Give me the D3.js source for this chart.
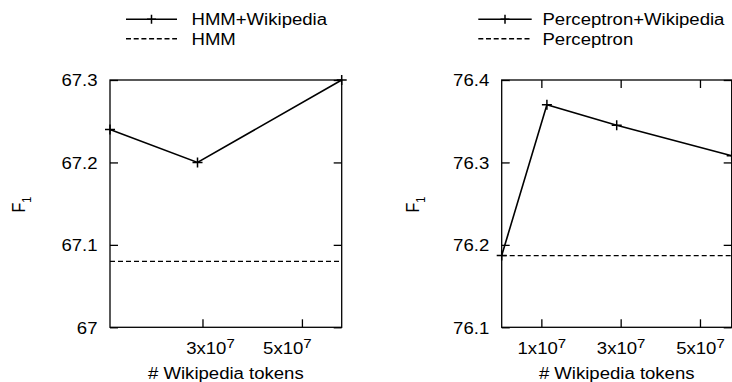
<!DOCTYPE html>
<html>
<head>
<meta charset="utf-8">
<script src="https://cdn.jsdelivr.net/npm/d3@7"></script>
<style>
  body { margin: 0; background: #fff; }
  svg { display: block; }
</style>
</head>
<body>
<div id="chart"></div>
<script>
// values
var hmmTokens = [1.14e7, 2.9e7, 5.8e7];
var hmmWiki = [67.24, 67.2, 67.3];
var hmmBase = 67.08;
var hmmYTicks = [67, 67.1, 67.2, 67.3];
var hmmXTicks = [3e7, 5e7];

var percTokens = [0, 1.14e7, 2.9e7, 5.8e7];
var percWiki = [76.187, 76.37, 76.345, 76.308];
var percBase = 76.187;
var percYTicks = [76.1, 76.2, 76.3, 76.4];
var percXTicks = [1e7, 3e7, 5e7];

var FONT = "'Liberation Sans', Arial, Helvetica, sans-serif";
var SX = 1.16; // text in the source is a bit wider than tall

var svg = d3.select("#chart").append("svg")
  .attr("width", 732)
  .attr("height", 382)
  .attr("font-family", FONT);

var plotTop = 80, plotBottom = 327.3;

function plus(g, cx, cy, r) {
  g.append("path")
    .attr("d", "M" + (cx - r) + "," + cy + "H" + (cx + r) + "M" + cx + "," + (cy - r) + "V" + (cy + r))
    .attr("stroke", "#000").attr("stroke-width", 1.5).attr("fill", "none");
}

function panel(o) {
  var x = d3.scaleLinear().domain(d3.extent(o.tokens)).range([o.x0, o.x1]);
  var y = d3.scaleLinear().domain([o.yTicks[0], o.yTicks[o.yTicks.length - 1]]).range([plotBottom, plotTop]);
  var g = svg.append("g");

  // left axis with labels
  var ay = g.append("g")
    .attr("transform", "translate(" + o.x0 + ",0)")
    .call(d3.axisLeft(y).tickValues(o.yTicks).tickSize(-8).tickSizeOuter(0)
      .tickFormat(function(d) { return String(+d.toFixed(1)); }));
  ay.attr("font-family", FONT).attr("font-size", 16);
  ay.select(".domain").remove();
  ay.selectAll("line").attr("stroke-width", 1.3);
  ay.selectAll("text").attr("x", 0).attr("dy", null)
    .attr("fill", "#000")
    .attr("transform", "translate(-12.5,5.8) scale(" + SX + ",1)");

  // mirrored ticks on the right
  var ar = g.append("g")
    .attr("transform", "translate(" + o.x1 + ",0)")
    .call(d3.axisRight(y).tickValues(o.yTicks).tickSize(-8).tickSizeOuter(0).tickFormat(""));
  ar.select(".domain").remove();
  ar.selectAll("line").attr("stroke-width", 1.3);

  // bottom axis
  var ax = g.append("g")
    .attr("transform", "translate(0," + plotBottom + ")")
    .call(d3.axisBottom(x).tickValues(o.xTicks).tickSize(-8).tickSizeOuter(0).tickFormat(""));
  ax.select(".domain").remove();
  ax.selectAll("line").attr("stroke-width", 1.3);
  ax.selectAll(".tick").each(function(d, i) {
    var t = d3.select(this).append("text")
      .attr("fill", "#000")
      .attr("font-size", 16)
      .attr("font-family", FONT)
      .attr("text-anchor", "middle")
      .attr("transform", "translate(" + o.labelShift[i] + ",26.7) scale(" + SX + ",1)");
    t.append("tspan").text((d / 1e7) + "x10");
    t.append("tspan").attr("font-size", 13).attr("dy", -6.5).text("7");
  });

  if (o.topTicks) {
    var at = g.append("g")
      .attr("transform", "translate(0," + plotTop + ")")
      .call(d3.axisTop(x).tickValues(o.xTicks).tickSize(-8).tickSizeOuter(0).tickFormat(""));
    at.select(".domain").remove();
    at.selectAll("line").attr("stroke-width", 1.3);
  }

  // frame
  g.append("rect")
    .attr("x", o.x0).attr("y", plotTop)
    .attr("width", o.x1 - o.x0).attr("height", plotBottom - plotTop)
    .attr("fill", "none").attr("stroke", "#000").attr("stroke-width", 1.3);

  // baseline
  g.append("line")
    .attr("x1", x.range()[0]).attr("x2", x.range()[1])
    .attr("y1", y(o.base)).attr("y2", y(o.base))
    .attr("stroke", "#000").attr("stroke-width", 1.4)
    .attr("stroke-dasharray", "5,3");

  // +Wikipedia line
  var pts = o.tokens.map(function(t, i) { return [t, o.wiki[i]]; });
  g.append("path")
    .datum(pts)
    .attr("fill", "none").attr("stroke", "#000").attr("stroke-width", 1.6)
    .attr("d", d3.line().x(function(d) { return x(d[0]); }).y(function(d) { return y(d[1]); }));
  pts.forEach(function(d) { plus(g, x(d[0]), y(d[1]), 5); });

  // y label F1
  var yl = g.append("text")
    .attr("fill", "#000").attr("font-size", 16).attr("text-anchor", "middle")
    .attr("transform", "translate(" + o.yLabelX + ",204.5) scale(" + SX + ",1) rotate(-90)");
  yl.append("tspan").text("F");
  yl.append("tspan").attr("font-size", 11).attr("dy", 5).text("1");

  // x label
  g.append("text")
    .attr("fill", "#000").attr("font-size", 16).attr("text-anchor", "middle")
    .attr("transform", "translate(" + ((o.x0 + o.x1) / 2) + ",379.3) scale(" + SX + ",1)")
    .text("# Wikipedia tokens");

  // legend
  var lg = g.append("g");
  lg.append("line")
    .attr("x1", o.legX0).attr("x2", o.legX1).attr("y1", 19.3).attr("y2", 19.3)
    .attr("stroke", "#000").attr("stroke-width", 1.6);
  plus(lg, (o.legX0 + o.legX1) / 2, 19.3, 4.5);
  lg.append("line")
    .attr("x1", o.legX0).attr("x2", o.legX1).attr("y1", 38.8).attr("y2", 38.8)
    .attr("stroke", "#000").attr("stroke-width", 1.4).attr("stroke-dasharray", "5,2.7");
  o.names.forEach(function(n, i) {
    lg.append("text")
      .attr("fill", "#000").attr("font-size", 16)
      .attr("transform", "translate(" + o.legText + "," + (25.3 + i * 19.5) + ") scale(" + SX + ",1)")
      .text(n);
  });
}

panel({
  tokens: hmmTokens, wiki: hmmWiki, base: hmmBase,
  yTicks: hmmYTicks, xTicks: hmmXTicks, labelShift: [7.5, -15],
  x0: 110, x1: 341.7, topTicks: false, yLabelX: 25,
  legX0: 126, legX1: 177, legText: 191.5,
  names: ["HMM+Wikipedia", "HMM"]
});

panel({
  tokens: percTokens, wiki: percWiki, base: percBase,
  yTicks: percYTicks, xTicks: percXTicks, labelShift: [0, 0, 0],
  x0: 501.7, x1: 731.7, topTicks: true, yLabelX: 419.3,
  legX0: 478.3, legX1: 531.7, legText: 542.5,
  names: ["Perceptron+Wikipedia", "Perceptron"]
});
</script>
</body>
</html>
